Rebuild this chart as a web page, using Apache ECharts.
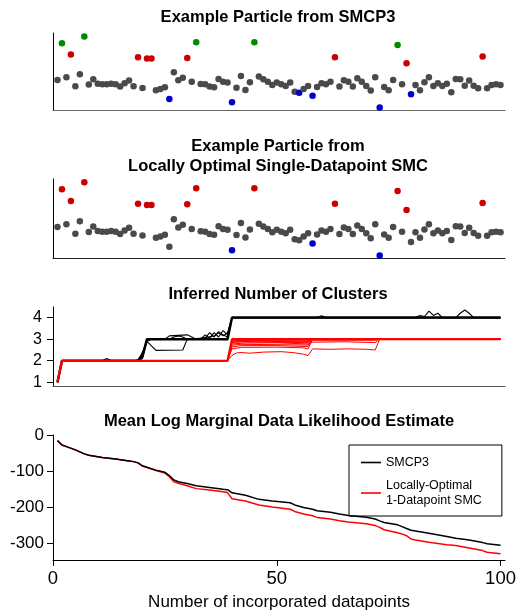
<!DOCTYPE html>
<html>
<head>
<meta charset="utf-8">
<script src="https://cdn.jsdelivr.net/npm/echarts@6/dist/echarts.min.js"></script>
<style>
html,body{margin:0;padding:0;background:#fff;}
#chart{width:516px;height:612px;}
</style>
</head>
<body>
<div id="chart"></div>
<script>
// ---------- Data ----------
// observed datapoint values (index 1..100)
const dataY = [0.88,3.63,1.08,2.78,0.40,1.30,4.13,0.53,0.93,0.60,
0.55,0.55,0.60,0.55,0.38,0.63,0.83,0.40,2.58,0.28,
2.48,2.48,0.10,0.20,0.33,-0.55,1.45,0.85,1.05,2.53,
0.75,3.70,0.58,0.55,0.38,0.33,0.95,0.75,0.68,-0.80,
0.30,1.18,0.13,0.70,3.70,1.13,0.93,0.75,0.50,0.68,
0.55,0.43,0.68,0.00,-0.08,0.20,0.43,-0.30,0.35,0.63,
0.55,0.75,2.58,0.38,0.85,0.75,0.38,1.00,0.75,0.43,
0.08,1.08,-1.18,0.35,0.10,0.88,3.50,0.55,2.13,-0.20,
0.50,0.10,0.70,1.08,0.43,0.63,0.43,0.60,-0.05,0.95,
0.93,0.45,0.83,0.45,0.25,2.63,0.25,0.50,0.55,0.50];

// cluster assignments (datapoint indices) for the SMCP3 particle
const smcp3Red   = [4,19,21,22,30,63,79,96];
const smcp3Green = [2,7,32,45,77];
const smcp3Blue  = [26,40,55,58,73,80];
// cluster assignments for the locally optimal particle
const loRed  = [2,4,7,19,21,22,30,32,45,63,77,79,96];
const loBlue = [40,58,73];

const clusterColors = {gray:'#4a4a4a', red:'#cc0000', green:'#008a00', blue:'#0000cc'};

// Inferred number of clusters: per-run traces (vertices [x, y])
const smcp3ClusterRuns = [
  [[1,1],[2,2],[19,2],[20,2.2],[21,3],[39,3],[40,4],[100,4]],
  [[1,1],[2,2],[19,2],[20,2.4],[21,2.9],[22,3],[26,3],[27,3.1],[28,3.15],[29,3.1],[30,3],[34,3.05],[35,3.3],[36,3.1],[37,3.35],[38,3.2],[39,3.1],[40,4],[59,4],[60,4.08],[61,4],[100,4]],
  [[1,1],[2,2],[11,2],[12,2.1],[13,2],[19,2],[20,2.3],[21,2.9],[23,2.48],[29,2.5],[30,3],[33,3],[34,3.2],[35,3.05],[36,3.3],[37,3.1],[38,3.4],[39,3.2],[40,4],[81,4],[82,4.1],[83,4.05],[84,4.3],[85,4.1],[86,4.2],[87,4],[100,4]],
  [[1,1],[2,2],[19,2],[20,2.1],[21,3],[25,3],[26,3.15],[30,3.2],[31,3.1],[32,3],[36,3.15],[37,3.3],[38,3.15],[39,3.3],[40,4],[90,4],[91,4.2],[92,4.35],[93,4.2],[94,4],[100,4]],
  [[1,1],[2,2],[18,2],[19,2.05],[20,2.35],[21,2.95],[22,3],[39,3],[40,4],[100,4]]
];
const loClusterRuns = [
  [[1,1],[2,2],[39,2],[40,3],[100,3]],
  [[1,1],[2,2],[39,2],[40,2.96],[57,2.96],[58,3],[100,3]],
  [[1,1],[2,2],[39,2],[40,2.92],[42,2.94],[57,2.92],[58,3],[100,3]],
  [[1,1],[2,2],[39,2],[40,2.88],[45,2.9],[57,2.88],[58,2.95],[72,2.95],[73,3],[100,3]],
  [[1,1],[2,2],[39,2],[40,2.84],[42,2.87],[57,2.84],[58,3],[100,3]],
  [[1,1],[2,2],[39,2],[40,2.78],[43,2.82],[50,2.83],[57,2.78],[58,2.86],[65,2.88],[72,2.84],[73,3],[100,3]],
  [[1,1],[2,2],[39,2],[40,2.72],[42,2.76],[57,2.73],[58,3],[100,3]],
  [[1,1],[2,2],[39,2],[40,2.64],[42,2.7],[50,2.7],[57,2.66],[58,3],[100,3]],
  [[1,1],[2,2],[39,2],[40,2.55],[42,2.62],[50,2.63],[56,2.6],[57,2.55],[58,3],[100,3]],
  [[1,1],[2,2],[39,2],[40,2.25],[41,2.36],[42,2.38],[44,2.35],[47,2.4],[51,2.42],[54,2.37],[56,2.3],[57,2.24],[58,2.55],[62,2.53],[66,2.55],[70,2.53],[72,2.5],[73,3],[100,3]]
];

// Mean log marginal data likelihood estimate
const likX = [1,2,3,5,7,8,11,14,17,18,19,20,21,23,25,26,27,28,30,32,35,38,39,40,43,46,49,53,54,56,58,59,62,64,66,70,72,73,74,77,78,79,80,81,84,88,90,93,96,97,100];
const smcp3Lik = [-15.6,-27.6,-32,-41,-52,-56,-62,-66.5,-71.5,-73.5,-77,-85,-89,-97,-103,-112,-124,-129,-134,-140,-145,-150,-151,-159.5,-166.5,-177.6,-182,-187,-193,-200,-205,-209,-213,-218,-222,-227,-232,-237,-241.6,-248,-253,-258,-263,-265,-271,-280,-285,-289.5,-297,-300,-304.5];
const loLik = [-15.6,-27.6,-32,-41,-52,-56,-62,-66.5,-71.5,-73.5,-77,-86,-90,-98,-105,-115,-129,-133,-140,-148,-152,-156.5,-159,-176,-182,-193.4,-199,-205,-211,-218,-223,-227.4,-232,-236.6,-240.4,-245,-250,-255,-261.6,-270,-273,-278,-287,-290,-296,-302.6,-305,-312,-319,-323.6,-328];

const xTicks = [0,50,100];
const clusterTicks = [1,2,3,4];
const likTicks = [0,-100,-200,-300];

// ---------- Build ----------
const FONT = "'Liberation Sans', Arial, Helvetica, sans-serif";

function colorOf(i, red, green, blue) {
  if (red.indexOf(i) >= 0) return clusterColors.red;
  if (green.indexOf(i) >= 0) return clusterColors.green;
  if (blue.indexOf(i) >= 0) return clusterColors.blue;
  return clusterColors.gray;
}
function scatterData(red, green, blue) {
  return dataY.map((v, k) => ({value: [k + 1, v], itemStyle: {color: colorOf(k + 1, red, green, blue), opacity: 1}}));
}

const grids = [
  {left:53, top:33, width:452, height:77},
  {left:53, top:179, width:452, height:79},
  {left:53, top:307, width:452, height:79},
  {left:53, top:435, width:452, height:125}
].map(g => Object.assign({outerBoundsMode:'none', containLabel:false}, g));

function plainX(idx, color) {
  return {type:'value', gridIndex:idx, min:0, max:101,
    axisLine:{show:true, onZero:false, lineStyle:{color:color, width:1}},
    axisTick:{show:false}, axisLabel:{show:false}, splitLine:{show:false}};
}
function plainY(idx, min, max) {
  return {type:'value', gridIndex:idx, min:min, max:max,
    axisLine:{show:true, onZero:false, lineStyle:{color:'#000', width:1}},
    axisTick:{show:false}, axisLabel:{show:false}, splitLine:{show:false}};
}

const xAxes = [
  plainX(0, '#666'),
  plainX(1, '#222'),
  plainX(2, '#555'),
  {type:'value', gridIndex:3, min:0, max:101,
    axisLine:{show:true, onZero:false, lineStyle:{color:'#000', width:1}},
    axisTick:{show:true, length:6, customValues:xTicks, lineStyle:{color:'#000'}},
    axisLabel:{show:true, customValues:xTicks, fontSize:18.5, color:'#000', fontFamily:FONT, margin:9},
    splitLine:{show:false},
    name:'Number of incorporated datapoints', nameLocation:'middle', nameGap:34,
    nameTextStyle:{fontSize:17, color:'#000', fontFamily:FONT}}
];
const yAxes = [
  plainY(0, -1.375, 4.4),
  plainY(1, -1.36, 4.37),
  {type:'value', gridIndex:2, min:0.83, max:4.49,
    axisLine:{show:true, onZero:false, lineStyle:{color:'#000', width:1}},
    axisTick:{show:true, length:6, customValues:clusterTicks, lineStyle:{color:'#000'}},
    axisLabel:{show:true, customValues:clusterTicks, fontSize:16, color:'#000', fontFamily:FONT, margin:11},
    splitLine:{show:false}},
  {type:'value', gridIndex:3, min:-345, max:0,
    axisLine:{show:true, onZero:false, lineStyle:{color:'#000', width:1}},
    axisTick:{show:true, length:6, customValues:likTicks, lineStyle:{color:'#000'}},
    axisLabel:{show:true, customValues:likTicks, fontSize:17, color:'#000', fontFamily:FONT, margin:9},
    splitLine:{show:false}}
];

const series = [];
series.push({type:'scatter', xAxisIndex:0, yAxisIndex:0, symbolSize:6.5, data:scatterData(smcp3Red, smcp3Green, smcp3Blue), silent:true});
series.push({type:'scatter', xAxisIndex:1, yAxisIndex:1, symbolSize:6.5, data:scatterData(loRed, [], loBlue), silent:true});
smcp3ClusterRuns.forEach((run, k) => series.push({
  type:'line', name:'smcp3-run-' + k, xAxisIndex:2, yAxisIndex:2, data:run,
  symbol:'none', lineStyle:{color:'#000', width: k === 0 ? 2.5 : 1.1}, silent:true
}));
loClusterRuns.forEach((run, k) => series.push({
  type:'line', name:'lo-run-' + k, xAxisIndex:2, yAxisIndex:2, data:run,
  symbol:'none', lineStyle:{color:'#ff0000', width: k === 0 ? 2.2 : 1}, silent:true
}));
const LO_NAME = 'Locally-Optimal\n1-Datapoint SMC';
series.push({type:'line', name:LO_NAME, xAxisIndex:3, yAxisIndex:3,
  data: likX.map((x, k) => [x, loLik[k]]), symbol:'none', lineStyle:{color:'#ff0000', width:1.5}, itemStyle:{color:'#ff0000'}});
series.push({type:'line', name:'SMCP3', xAxisIndex:3, yAxisIndex:3,
  data: likX.map((x, k) => [x, smcp3Lik[k]]), symbol:'none', lineStyle:{color:'#000', width:1.5}, itemStyle:{color:'#000'}});

function title(text, x, y) {
  return {type:'text', x:x, y:y, style:{text:text, font:"bold 16.5px " + FONT, fill:'#000', textAlign:'center', textVerticalAlign:'middle'}};
}

const option = {
  animation:false,
  backgroundColor:'#fff',
  grid: grids,
  xAxis: xAxes,
  yAxis: yAxes,
  series: series,
  legend: {
    data:['SMCP3', LO_NAME], orient:'vertical', left:349, top:445,
    borderColor:'#000', borderWidth:1, borderRadius:0, padding:[10,20,8,12],
    icon:'rect', itemWidth:20, itemHeight:1.6, itemGap:8, selectedMode:false,
    textStyle:{fontSize:12.5, lineHeight:15, color:'#000', fontFamily:FONT}
  },
  graphic: [
    title('Example Particle from SMCP3', 278, 17),
    title('Example Particle from', 278, 146),
    title('Locally Optimal Single-Datapoint SMC', 278, 166),
    title('Inferred Number of Clusters', 278, 294),
    title('Mean Log Marginal Data Likelihood Estimate', 279, 421)
  ]
};

const chart = echarts.init(document.getElementById('chart'), null, {renderer:'canvas'});
chart.setOption(option);
</script>
</body>
</html>
